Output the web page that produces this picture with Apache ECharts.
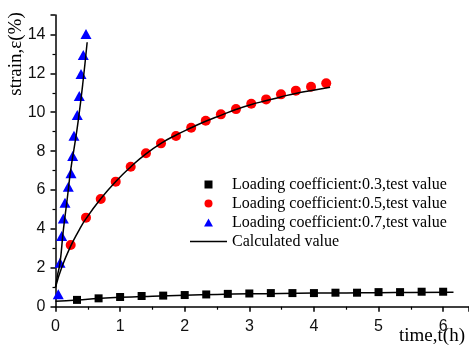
<!DOCTYPE html>
<html>
<head>
<meta charset="utf-8">
<script src="https://cdn.jsdelivr.net/npm/echarts@6/dist/echarts.min.js"></script>
<style>html,body{margin:0;padding:0;background:#fff;}#c{width:469px;height:350px;}</style>
</head>
<body>
<div id="c"></div>
<script>
// Test values: [time (h), strain (%)]
const test03 = [[0.333,0.35],[0.667,0.43],[1.0,0.5],[1.333,0.55],[1.667,0.57],[2.0,0.6],[2.333,0.63],[2.667,0.66],[3.0,0.68],[3.333,0.7],[3.667,0.7],[4.0,0.7],[4.333,0.72],[4.667,0.72],[5.0,0.75],[5.333,0.75],[5.667,0.77],[6.0,0.77]];
const test05 = [[0.235,3.17],[0.472,4.58],[0.70,5.54],[0.932,6.43],[1.164,7.20],[1.40,7.89],[1.633,8.40],[1.865,8.78],[2.10,9.20],[2.325,9.56],[2.56,9.89],[2.794,10.16],[3.03,10.44],[3.26,10.66],[3.49,10.92],[3.72,11.11],[3.955,11.31],[4.19,11.49]];
const test07 = [[0.043,0.64],[0.07,2.26],[0.096,3.63],[0.121,4.54],[0.147,5.35],[0.198,6.17],[0.24,6.86],[0.266,7.75],[0.286,8.79],[0.337,9.86],[0.368,10.83],[0.395,11.96],[0.43,12.94],[0.472,14.02]];
// Calculated curves
const calc03 = [[0,0.28],[0.333,0.34],[0.667,0.42],[1.0,0.48],[1.5,0.54],[2.0,0.59],[2.5,0.63],[3.0,0.66],[3.5,0.68],[4.0,0.7],[4.5,0.71],[5.0,0.72],[5.5,0.73],[6.16,0.74]];
const calc05 = [[0,1.0],[0.1,2.05],[0.233,3.1],[0.35,3.85],[0.467,4.5],[0.7,5.55],[0.933,6.44],[1.167,7.2],[1.4,7.86],[1.633,8.4],[1.867,8.83],[2.1,9.2],[2.333,9.55],[2.567,9.85],[2.8,10.15],[3.033,10.4],[3.267,10.6],[3.5,10.8],[3.733,10.98],[3.967,11.12],[4.25,11.29]];
const calc07 = [[0,1.0],[0.03,1.6],[0.07,2.25],[0.12,3.9],[0.18,5.5],[0.236,7.05],[0.3,8.4],[0.354,9.62],[0.42,11.4],[0.49,13.6]];
const names = ['Loading coefficient:0.3,test value','Loading coefficient:0.5,test value','Loading coefficient:0.7,test value','Calculated value'];
const xName = 'time,t(h)';
const yName = 'strain,ε(%)';

const chart = echarts.init(document.getElementById('c'), null, {renderer:'canvas'});
const axisCommon = {
  axisLine:{show:true,onZero:false,lineStyle:{color:'#000',width:1.5}},
  axisTick:{show:true,inside:false,length:5,lineStyle:{color:'#000',width:1.5}},
  minorTick:{show:true,splitNumber:2,length:3,lineStyle:{color:'#000',width:1.2}},
  splitLine:{show:false},
  axisLabel:{color:'#111',fontSize:16,fontFamily:'Liberation Sans',showMaxLabel:false}
};
const lineStyle = {color:'#000',width:1.5};
chart.setOption({
  animation:false,
  grid:{left:55.5,right:0,top:15,bottom:43.3},
  xAxis:Object.assign({type:'value',min:0,max:6.4,interval:1}, JSON.parse(JSON.stringify(axisCommon)), {axisLabel:Object.assign({},axisCommon.axisLabel,{margin:12})}),
  yAxis:Object.assign({type:'value',min:0,max:15,interval:2}, JSON.parse(JSON.stringify(axisCommon)), {axisLabel:Object.assign({},axisCommon.axisLabel,{margin:10})}),
  legend:{
    orient:'vertical',left:185,top:170,itemWidth:37,itemHeight:8,itemGap:0,symbolKeepAspect:true,
    textStyle:{fontFamily:'Liberation Serif',fontSize:16,color:'#000',lineHeight:19},
    data:[
      {name:names[0],icon:'path://M0,0L1,0L1,1L0,1Z'},
      {name:names[1],icon:'circle'},
      {name:names[2],icon:'path://M0.5,0L1,0.9L0,0.9Z'},
      {name:names[3],icon:'path://M0,0L37,0L37,1.6L0,1.6Z',itemStyle:{color:'#000'}}
    ]
  },
  graphic:[
    {type:'text',x:16,y:54,rotation:Math.PI/2,style:{text:yName,font:'19px "Liberation Serif"',fill:'#000',align:'center',verticalAlign:'middle'}},
    {type:'text',x:432,y:336,style:{text:xName,font:'19px "Liberation Serif"',fill:'#000',align:'center',verticalAlign:'middle'}}
  ],
  series:[
    {name:names[0],type:'scatter',data:test03,symbol:'rect',symbolSize:8,itemStyle:{color:'#000',opacity:1},z:2},
    {name:names[1],type:'scatter',data:test05,symbol:'circle',symbolSize:10,itemStyle:{color:'#ff0000',opacity:1},z:2},
    {name:names[2],type:'scatter',data:test07,symbol:'triangle',symbolSize:[11,10],itemStyle:{color:'#0000ff',opacity:1},z:2},
    {name:names[3],type:'line',data:calc03,smooth:true,symbol:'none',showSymbol:false,lineStyle:lineStyle,itemStyle:{color:'#000'},z:3},
    {name:names[3],type:'line',data:calc05,smooth:true,symbol:'none',showSymbol:false,lineStyle:lineStyle,itemStyle:{color:'#000'},z:3},
    {name:names[3],type:'line',data:calc07,smooth:true,symbol:'none',showSymbol:false,lineStyle:lineStyle,itemStyle:{color:'#000'},z:3}
  ]
});
</script>
</body>
</html>
